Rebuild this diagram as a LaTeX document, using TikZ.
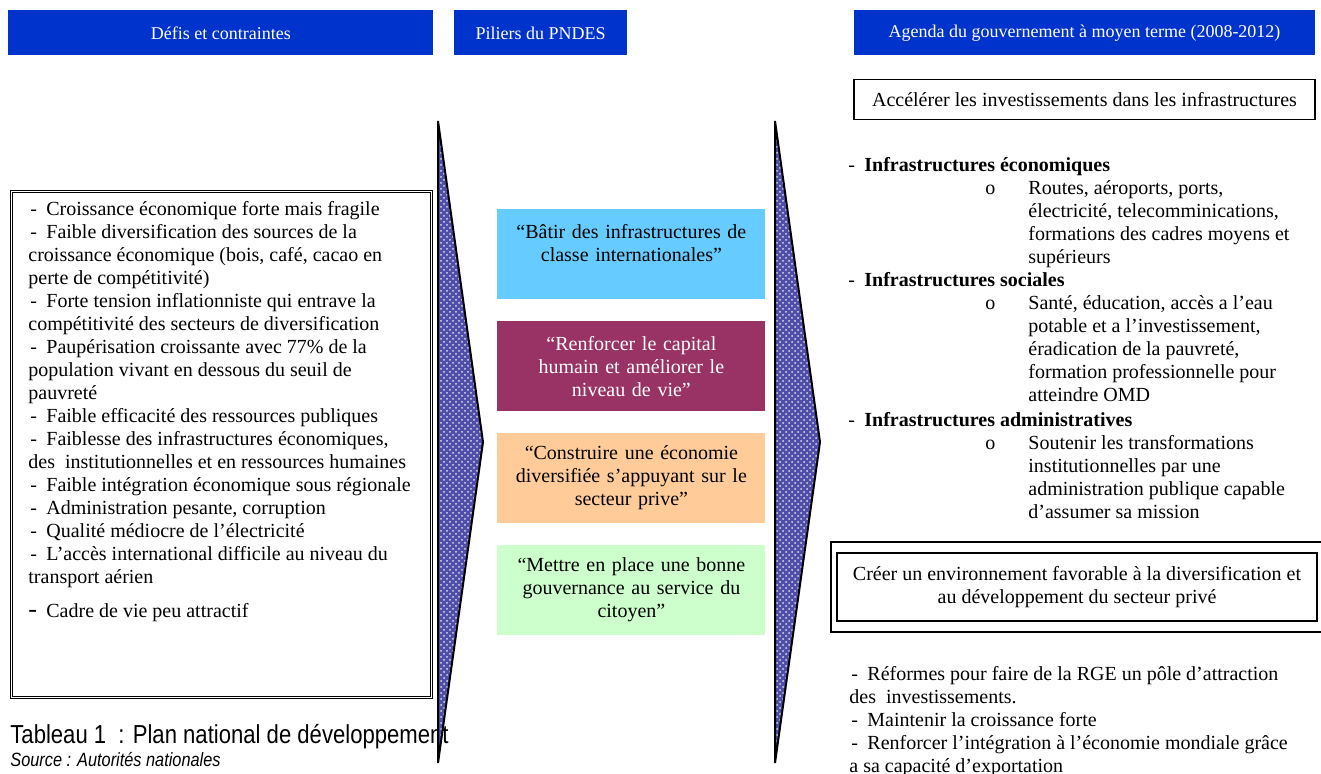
\documentclass[tikz,border=0pt]{standalone}
\usepackage{fontspec}
\setmainfont{Liberation Serif}
\newfontfamily\captionfont[FakeStretch=0.85]{Liberation Sans}
\usepackage{tikz}
\usetikzlibrary{positioning,fit,patterns}
\definecolor{headblue}{RGB}{0,51,204}
\definecolor{chevblue}{RGB}{78,78,168}
\definecolor{pastelcyan}{RGB}{102,204,255}
\definecolor{pastelmaroon}{RGB}{153,51,102}
\definecolor{pastelpeach}{RGB}{255,204,153}
\definecolor{pastelmint}{RGB}{204,255,204}
\newcommand{\bodyfont}{\fontsize{10}{11.5}\selectfont}
\newcommand{\tiret}{\makebox[9pt][l]{\hspace{1pt}-}}
\newcommand{\rond}{\hspace*{69.5pt}\makebox[21.5pt][l]{o}}
\newcommand{\sousind}{\hspace*{91pt}}
\tikzstyle{header} = [rectangle, fill=headblue, text=white, font=\fontsize{9}{10}\selectfont, minimum height=22.5pt, inner sep=0pt]
\tikzstyle{pillar} = [rectangle, minimum width=134pt, minimum height=45pt, text width=130pt, align=center, inner sep=0pt, font=\bodyfont]
\tikzstyle{framebox} = [rectangle, draw=black, line width=0.8pt, inner sep=0pt, align=center, font=\bodyfont]
\tikzstyle{listtext} = [anchor=north west, inner sep=0pt, align=left, font=\bodyfont]
\tikzstyle{chevron} = [draw=black, line width=1pt, line join=miter, preaction={fill=chevblue}, pattern=crosshatch dots, pattern color=white!80!chevblue]

\begin{document}
\begin{tikzpicture}[x=0.5pt, y=-0.5pt]
        \useasboundingbox (0,0) rectangle (1321,774);
        % Headers ---------------------------------------------------------------------------------
        \node[header, minimum width=212.5pt, anchor=north west] (header_defis) at (8,10) {Défis et contraintes};
        \node[header, minimum width=86.5pt, right=10pt of header_defis] (header_piliers) {Piliers du PNDES};
        \node[header, minimum width=230.5pt, right=113pt of header_piliers] (header_agenda) {Agenda du gouvernement à moyen terme (2008-2012)};
        % Defis -----------------------------------------------------------------------------------
        \node[rectangle, draw=black, line width=0.5pt, double, double distance=0.8pt, minimum width=210pt, minimum height=253pt, anchor=north west] (box_defis) at (11,191) {};
        \node[listtext] (text_defis) at (28,201) {%
            \tiret Croissance économique forte mais fragile\\
            \tiret Faible diversification des sources de la\\
            croissance économique (bois, café, cacao en\\
            perte de compétitivité)\\
            \tiret Forte tension inflationniste qui entrave la\\
            compétitivité des secteurs de diversification\\
            \tiret Paupérisation croissante avec 77\% de la\\
            population vivant en dessous du seuil de\\
            pauvreté\\
            \tiret Faible efficacité des ressources publiques\\
            \tiret Faiblesse des infrastructures économiques,\\
            des\ \ institutionnelles et en ressources humaines\\
            \tiret Faible intégration économique sous régionale\\
            \tiret Administration pesante, corruption\\
            \tiret Qualité médiocre de l’électricité\\
            \tiret L’accès international difficile au niveau du\\
            transport aérien\\[5.5pt]
            \makebox[9pt][l]{\fontsize{13}{11.5}\selectfont -}Cadre de vie peu attractif};
        % Caption
        \node[anchor=base west, inner sep=0pt, font=\captionfont\fontsize{13}{14}\selectfont] (caption) at (10,743) {Tableau 1\ \ : Plan national de développement};
        \node[anchor=base west, inner sep=0pt, font=\captionfont\itshape\fontsize{9.6}{11}\selectfont] (source) at (10,766) {Source : Autorités nationales};
        % Piliers ---------------------------------------------------------------------------------
        \node[pillar, fill=pastelcyan, anchor=north west] (pillar_batir) at (497,209) {“Bâtir des infrastructures de\\classe internationales”\\\mbox{}};
        \node[pillar, fill=pastelmaroon, text=white, below=10.5pt of pillar_batir] (pillar_capital) {“Renforcer le capital\\humain et améliorer le\\niveau de vie”};
        \node[pillar, fill=pastelpeach, below=10.5pt of pillar_capital] (pillar_economie) {“Construire une économie\\diversifiée s’appuyant sur le\\secteur prive”};
        \node[pillar, fill=pastelmint, below=10.5pt of pillar_economie] (pillar_gouvernance) {“Mettre en place une bonne\\gouvernance au service du\\citoyen”};
        % Agenda ----------------------------------------------------------------------------------
        \node[framebox, minimum width=230.5pt, minimum height=20pt, below=11.5pt of header_agenda] (agenda_accelerer) {Accélérer les investissements dans les infrastructures};
        \node[listtext] (agenda_infra) at (846,157) {%
            \tiret\textbf{Infrastructures économiques}\\
            \rond Routes, aéroports, ports,\\
            \sousind électricité, telecomminications,\\
            \sousind formations des cadres moyens et\\
            \sousind supérieurs\\
            \tiret\textbf{Infrastructures sociales}\\
            \rond Santé, éducation, accès a l’eau\\
            \sousind potable et a l’investissement,\\
            \sousind éradication de la pauvreté,\\
            \sousind formation professionnelle pour\\
            \sousind atteindre OMD\\[1pt]
            \tiret\textbf{Infrastructures administratives}\\
            \rond Soutenir les transformations\\
            \sousind institutionnelles par une\\
            \sousind administration publique capable\\
            \sousind d’assumer sa mission};
        \node[framebox, line width=1pt, minimum width=240pt, minimum height=34pt, anchor=north west] (agenda_creer) at (836,552) {Créer un environnement favorable à la diversification et\\au développement du secteur privé};
        \node[rectangle, draw=black, line width=1pt, fit=(agenda_creer), inner xsep=2.5pt, inner ysep=5pt] (agenda_creer_frame) {};
        \node[listtext] (agenda_reformes) at (849,666) {%
            \tiret Réformes pour faire de la RGE un pôle d’attraction\\
            des\ \ investissements.\\
            \tiret Maintenir la croissance forte\\
            \tiret Renforcer l’intégration à l’économie mondiale grâce\\
            a sa capacité d’exportation};
        % Chevrons --------------------------------------------------------------------------------
        \draw[chevron] (438,121) -- (483,442) -- (438,763) -- cycle;
        \draw[chevron] (775,121) -- (820,442) -- (775,763) -- cycle;
    \end{tikzpicture}
\end{document}
